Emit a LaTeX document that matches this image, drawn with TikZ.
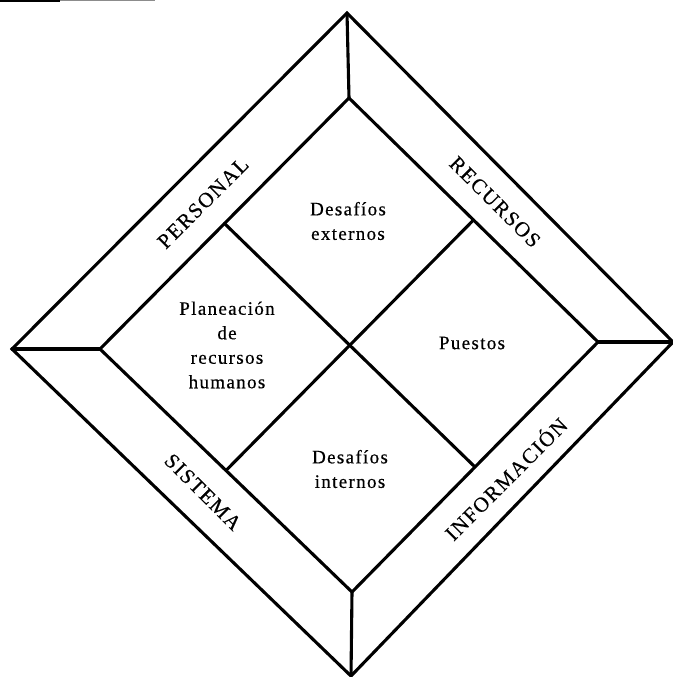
\documentclass[tikz,border=0pt]{standalone}
\usepackage{fontspec}
\setmainfont{Liberation Serif}
\newfontfamily\bandfont[LetterSpace=7,FakeBold=0.4]{Liberation Serif}
\newfontfamily\cellfont[LetterSpace=7,FakeBold=0.4]{Liberation Serif}
\usetikzlibrary{calc}
\begin{document}
\begin{tikzpicture}[x=1bp,y=-1bp,
  edge/.style={line width=3.1bp, line join=miter, line cap=round},
  band/.style={font=\bandfont\fontsize{21bp}{24bp}\selectfont, inner sep=0pt},
  cell/.style={font=\cellfont\fontsize{19bp}{24.5bp}\selectfont, align=center, inner sep=0pt}]
  \useasboundingbox (0,0) rectangle (673,677);

  % outer square (corner points)
  \coordinate (OT) at (347,13);
  \coordinate (OL) at (12,349);
  \coordinate (OR) at (673,342);
  \coordinate (OB) at (351,676);
  % inner square
  \coordinate (IT) at (349,98);
  \coordinate (IL) at (100,349);
  \coordinate (IR) at (598,342);
  \coordinate (IB) at (352,592);
  % midpoints of the inner sides
  \coordinate (MTL) at ($(IT)!0.5!(IL)$);
  \coordinate (MTR) at ($(IT)!0.5!(IR)$);
  \coordinate (MBL) at ($(IB)!0.5!(IL)$);
  \coordinate (MBR) at ($(IB)!0.5!(IR)$);

  % short rule at the top left corner
  \coordinate (r0) at (0,1);
  \coordinate (r1) at (60,1);
  \coordinate (r2) at (155,1);
  \draw[line width=1.6bp] (r0) -- (r1);
  \draw[line width=1bp, black!45] (r1) -- (r2);

  % frame
  \draw[edge] (OT) -- (OR) -- (OB) -- (OL) -- cycle;
  \draw[edge] (IT) -- (IR) -- (IB) -- (IL) -- cycle;
  \draw[edge] (OT) -- (IT);
  \draw[edge] (OL) -- (IL);
  \draw[edge] (OR) -- (IR);
  \draw[edge] (OB) -- (IB);
  % inner quadrants
  \draw[edge] (MTL) -- (MBR);
  \draw[edge] (MTR) -- (MBL);

  % band labels
  \node[band, rotate=45]  (personal) at (203,203) {PERSONAL};
  \node[band, rotate=-45] (recursos) at (495,202) {RECURSOS};
  \node[band, rotate=-45] (sistema)  at (203,492) {SISTEMA};
  \node[band, rotate=45]  (info)     at (505,478) {INFORMACIÓN};

  % quadrant labels
  \node[cell] (ext)    at (348,221) {Desafíos\\externos};
  \node[cell] (plan)   at (227,345) {Planeación\\de\\recursos\\humanos};
  \node[cell] (puesto) at (472,343) {Puestos};
  \node[cell] (int)    at (350,469) {Desafíos\\internos};
\end{tikzpicture}
\end{document}
